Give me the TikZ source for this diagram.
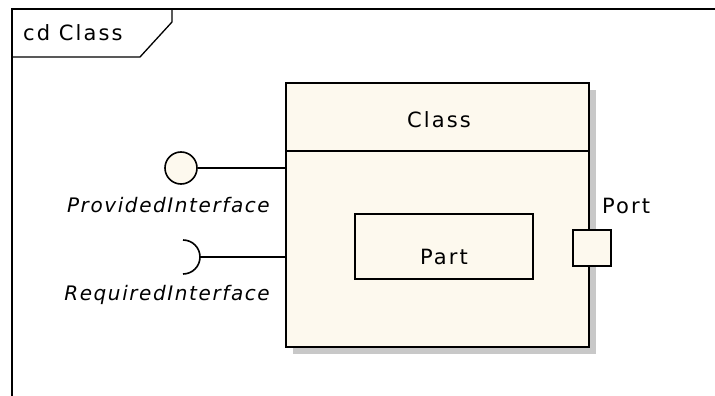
\documentclass[tikz,border=0pt]{standalone}
\usepackage{fontspec}
\usetikzlibrary{shadows}
\newfontfamily\umlfont[LetterSpace=10]{DejaVu Sans}
\newfontfamily\umlslant[LetterSpace=8]{DejaVu Sans Oblique}
\definecolor{classfill}{RGB}{253,249,238}
\definecolor{shadowgray}{RGB}{200,200,200}
\begin{document}
\begin{tikzpicture}[x=1pt,y=-1pt,
  umltext/.style={font=\umlfont\fontsize{21}{24}\selectfont, inner sep=0pt},
  umlitalic/.style={font=\umlslant\fontsize{20}{23}\selectfont, inner sep=0pt},
  frameline/.style={line width=1.3pt},
  classbox/.style={draw, line width=2pt, fill=classfill, rectangle, inner sep=0pt,
    drop shadow={shadow xshift=7pt, shadow yshift=-7pt, fill=shadowgray, opacity=1}},
  partbox/.style={draw, line width=2pt, fill=classfill, rectangle, inner sep=0pt},
  portbox/.style={draw, line width=1.6pt, fill=classfill, rectangle, inner sep=0pt,
    minimum width=38pt, minimum height=36pt},
  lollipop/.style={draw, line width=1.6pt, fill=classfill, circle, inner sep=0pt,
    minimum size=32pt},
  link/.style={line width=1.6pt}]
\useasboundingbox (0,0) rectangle (715,396);
\fill[white] (0,0) rectangle (715,396);

% diagram frame with its name tab
\draw[frameline] (12,396) -- (12,9) -- (715,9);
\draw[frameline] (12,57) -- (140,57) -- (172,22) -- (172,9);
\node[umltext, anchor=base west] (framename) at (23,41) {cd Class};

% the class with its name compartment
\node[classbox, minimum width=303pt, minimum height=264pt] (cls) at (437.5,215) {};
\coordinate (divider) at (0,151);
\draw[line width=2pt] (cls.west |- divider) -- (cls.east |- divider);
\node[umltext, anchor=base] (clsname) at (439,127) {Class};

% internal part
\node[partbox, minimum width=178pt, minimum height=65pt] (part) at (444,246.5) {};
\node[umltext, anchor=base] (partname) at (444,264) {Part};

% port on the right side
\node[portbox] (port) at (592,248) {};
\node[umltext, anchor=base west] (portname) at (602,213) {Port};

% provided interface (lollipop)
\node[lollipop] (prov) at (181,168) {};
\draw[link] (prov.east) -- (prov.east -| cls.west);
\node[umlitalic, anchor=base east] (provname) at (270,212) {ProvidedInterface};

% required interface (socket)
\coordinate (req) at (200,257);
\draw[link] (183,240) arc[start angle=90, end angle=-90, radius=17pt];
\draw[link] (req) -- (req -| cls.west);
\node[umlitalic, anchor=base east] (reqname) at (270,300) {RequiredInterface};
\end{tikzpicture}
\end{document}
